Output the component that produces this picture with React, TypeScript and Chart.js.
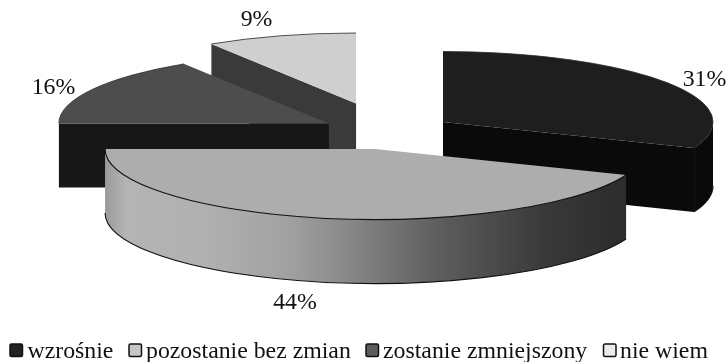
import React, { useEffect, useRef } from "react";
import { Chart, registerables } from "chart.js";

Chart.register(...registerables);

// Shares of answers, in percent
const categories = ["wzrośnie", "pozostanie bez zmian", "zostanie zmniejszony", "nie wiem"];
const shares = [31, 44, 16, 9];

// Slice appearance
const topColors = ["#1e1e1e", "#adadad", "#4d4d4d", "#cfcfcf"];
const cutColors = ["#0a0a0a", "#0a0a0a", "#171717", "#3a3a3a"];
const keyColors = ["#222222", "#c6c6c6", "#5c5c5c", "#ececec"];
const explode = [67, 67, 67, 113];
const paintOrder = [3, 2, 0, 1];

// Pie projection
const RADIUS = 270;
const TILT = 0.261;
const DEPTH = 64;
const CENTER_X = 387.6;
const CENTER_Y = 131.8;
const WIDTH = 728;
const HEIGHT = 362;

// Percent label centres and legend layout
const labelSpots: [number, number][] = [[704.5, 80], [295, 303], [53.5, 88], [256.5, 20]];
const keyX = [10, 129, 366, 603.5];
const textX = [27.5, 146, 383, 620];
const LEGEND_Y = 358;
const SERIF = '"Liberation Serif", serif';

const frontWall = (ctx: CanvasRenderingContext2D) => {
  const g = ctx.createLinearGradient(105, 0, 624, 0);
  g.addColorStop(0, "#9a9a9a");
  g.addColorStop(0.04, "#b4b4b4");
  g.addColorStop(0.2, "#b0b0b0");
  g.addColorStop(0.36, "#a0a0a0");
  g.addColorStop(0.5, "#808080");
  g.addColorStop(0.65, "#5c5c5c");
  g.addColorStop(0.85, "#393939");
  g.addColorStop(1, "#2c2c2c");
  return g;
};

const pie3d = {
  id: "pie3d",
  beforeDatasetsDraw(chart: any) {
    const ctx: CanvasRenderingContext2D = chart.ctx;
    const arcs = chart.getDatasetMeta(0).data;

    paintOrder.forEach((i) => {
      const el = arcs[i];
      const a0: number = el.startAngle;
      const a1: number = el.endAngle;
      const mid = (a0 + a1) / 2;
      const ox = CENTER_X + Math.cos(mid) * explode[i];
      const oy = CENTER_Y + Math.sin(mid) * explode[i] * TILT;
      const px = (t: number) => ox + RADIUS * Math.cos(t);
      const py = (t: number) => oy + RADIUS * TILT * Math.sin(t);

      const cut = (t: number) => {
        ctx.beginPath();
        ctx.moveTo(ox, oy);
        ctx.lineTo(px(t), py(t));
        ctx.lineTo(px(t), py(t) + DEPTH);
        ctx.lineTo(ox, oy + DEPTH);
        ctx.closePath();
        ctx.fillStyle = cutColors[i];
        ctx.fill();
      };
      // A cut face is seen only when its normal turns toward the viewer
      if (Math.cos(a0) < -1e-6) cut(a0);
      if (Math.cos(a1) > 1e-6) cut(a1);

      // Rim on the front half of the ellipse
      const from = Math.max(a0, 0);
      const to = Math.min(a1, Math.PI);
      if (to > from) {
        ctx.beginPath();
        ctx.ellipse(ox, oy, RADIUS, RADIUS * TILT, 0, from, to);
        ctx.ellipse(ox, oy + DEPTH, RADIUS, RADIUS * TILT, 0, to, from, true);
        ctx.closePath();
        ctx.fillStyle = i === 1 ? frontWall(ctx) : cutColors[i];
        ctx.fill();
        ctx.strokeStyle = "#111111";
        ctx.lineWidth = 1.1;
        ctx.beginPath();
        ctx.ellipse(ox, oy + DEPTH, RADIUS, RADIUS * TILT, 0, from, to);
        ctx.stroke();
      }

      // Top face is the library's own arc, flattened into the tilted plane
      ctx.save();
      ctx.translate(ox, oy);
      ctx.scale(1, TILT);
      ctx.translate(-el.x, -el.y);
      el.draw(ctx);
      ctx.restore();

      ctx.strokeStyle = i === 1 ? "#111111" : "#2a2a2a";
      ctx.lineWidth = i === 1 ? 1.1 : 0.8;
      ctx.beginPath();
      ctx.ellipse(ox, oy, RADIUS, RADIUS * TILT, 0, a0, a1);
      ctx.stroke();
    });
    return false;
  },
  afterDraw(chart: any) {
    const ctx: CanvasRenderingContext2D = chart.ctx;
    ctx.save();
    ctx.fillStyle = "#111111";
    ctx.font = `23.8px ${SERIF}`;
    ctx.textAlign = "center";
    ctx.textBaseline = "middle";
    shares.forEach((v, i) => ctx.fillText(`${v}%`, labelSpots[i][0], labelSpots[i][1]));

    ctx.textAlign = "left";
    ctx.textBaseline = "alphabetic";
    categories.forEach((name, i) => {
      ctx.beginPath();
      ctx.roundRect(keyX[i], LEGEND_Y - 14, 12.5, 12.5, 1.5);
      ctx.fillStyle = keyColors[i];
      ctx.fill();
      ctx.strokeStyle = "#111111";
      ctx.lineWidth = 1.5;
      ctx.stroke();
      ctx.fillStyle = "#111111";
      ctx.fillText(name, textX[i], LEGEND_Y);
    });
    ctx.restore();
  },
};

export default function App() {
  const ref = useRef<HTMLCanvasElement>(null);

  useEffect(() => {
    if (!ref.current) return;
    const chart = new Chart(ref.current, {
      type: "pie",
      data: {
        labels: categories,
        datasets: [{ data: shares, backgroundColor: topColors, borderWidth: 0 }],
      },
      options: {
        responsive: false,
        animation: false,
        radius: RADIUS,
        plugins: { legend: { display: false }, tooltip: { enabled: false } },
      },
      plugins: [pie3d],
    } as any);
    return () => chart.destroy();
  }, []);

  return (
    <div style={{ position: "absolute", left: 0, top: 0, width: WIDTH, height: HEIGHT, background: "#fff" }}>
      <canvas ref={ref} width={WIDTH} height={HEIGHT} style={{ display: "block" }} />
    </div>
  );
}
